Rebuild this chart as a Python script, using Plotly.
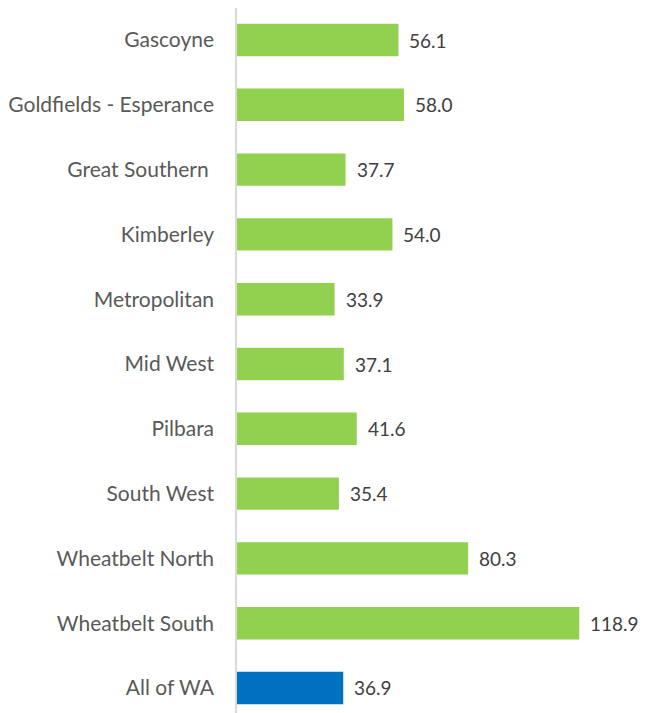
import plotly.graph_objects as go

categories = ["Gascoyne", "Goldfields - Esperance", "Great Southern ", "Kimberley",
              "Metropolitan", "Mid West", "Pilbara", "South West",
              "Wheatbelt North", "Wheatbelt South", "All of WA"]
values = [56.1, 58.0, 37.7, 54.0, 33.9, 37.1, 41.6, 35.4, 80.3, 118.9, 36.9]
colors = ["#92D050"] * 10 + ["#0070C0"]

fig = go.Figure(go.Bar(
    x=values, y=categories, orientation="h",
    marker=dict(color=colors, line=dict(width=0)),
    width=0.5,
))

for c, v in zip(categories, values):
    fig.add_annotation(x=v, y=c, text=f"{v:.1f}", showarrow=False,
                       xanchor="left", xshift=9,
                       font=dict(size=19, color="#404040", family="Lato"))

fig.update_layout(
    width=638, height=705,
    margin=dict(l=229, r=6, t=0, b=0),
    plot_bgcolor="white", paper_bgcolor="white",
    showlegend=False,
    font=dict(family="Lato", size=21, color="#595959"),
)
fig.update_xaxes(range=[0, 140], visible=False, showgrid=False)
fig.update_yaxes(range=[10.386, -0.494], showline=True, linecolor="#D9D9D9", linewidth=1.5,
                 showgrid=False, ticks="", ticklabelstandoff=17,
                 tickfont=dict(size=21, color="#595959", family="Lato"))

fig.write_html("out.html")
